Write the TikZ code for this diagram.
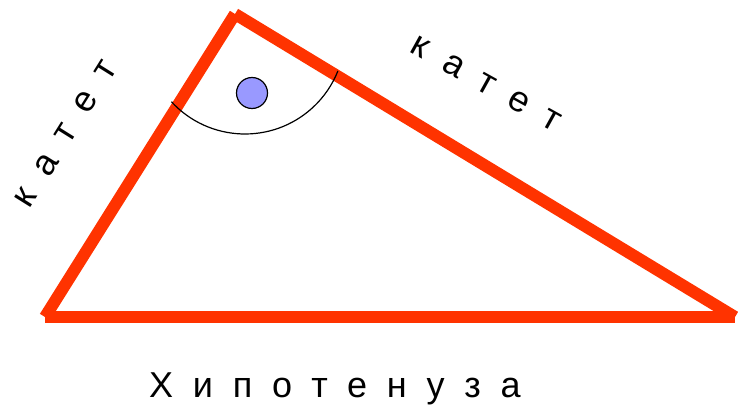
\documentclass[tikz,border=0pt]{standalone}
\usepackage{fontspec}
\setmainfont{Liberation Sans}
\usepackage{xcolor}
\definecolor{legred}{HTML}{FF3300}
\definecolor{dotblue}{HTML}{9999FF}
\usetikzlibrary{calc}

\begin{document}
\begin{tikzpicture}[
  x=1pt,y=1pt,
  leg/.style={draw=legred,line width=12pt,line cap=butt},
  lab/.style={font=\fontsize{36}{43}\selectfont\addfontfeature{LetterSpace=55},inner sep=0pt},
  anglearc/.style={draw=black,line width=1.2pt}
]
\useasboundingbox (0,0) rectangle (738,418);

% vertices
\coordinate (top) at (235,404);
\coordinate (bl) at (45,101);
\coordinate (br) at (735,101);
\coordinate (ctr) at (245,384);

% sides
\draw[leg] (bl) -- (top);
\draw[leg] (top) -- (br);
\draw[leg] (bl) -- (br);

% right angle mark
\draw[anglearc] ($(ctr)+(222.6:100)$) arc[start angle=222.6,end angle=338.3,radius=100];
\node[circle,draw=black,line width=1.2pt,fill=dotblue,minimum size=31pt,inner sep=0pt] (dot) at (252,325) {};

% labels
\node[lab,rotate=58] (legl) at (66,284) {катет};
\node[lab,rotate=-29] (legr) at (486,334) {катет};
\node[lab] (hyp) at (335,29) {Хипотенуза};
\end{tikzpicture}
\end{document}
